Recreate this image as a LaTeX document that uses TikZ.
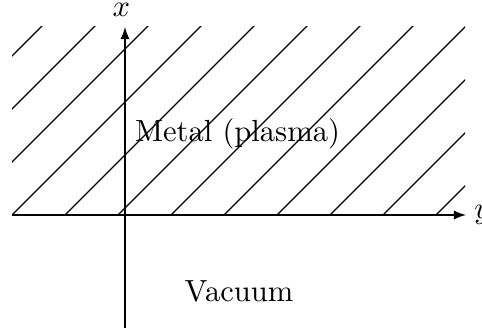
\documentclass[tikz,border=0pt]{standalone}
\usetikzlibrary{arrows}
\begin{document}
\begin{tikzpicture}[x=0.327pt,y=-0.327pt,
  hatch/.style={line width=0.4pt},
  axis/.style={line width=0.4pt,-latex},
  lbl/.style={anchor=base,inner sep=0pt}]
\useasboundingbox (0,0) rectangle (482,328);
% hatched metal region
\begin{scope}
  \clip (12,27) rectangle (465,215);
  \foreach \s in {-200,-147,...,470}
    \draw[hatch] (\s,215) -- ++(300,-300);
\end{scope}
% axes
\coordinate (yL) at (12,215);
\coordinate (yR) at (466,215);
\coordinate (xB) at (125,328);
\coordinate (xT) at (125,27);
\draw[axis] (yL) -- (yR);
\draw[axis] (xB) -- (xT);
\node[above,xshift=-1.2pt] (xl) at (xT) {$x$};
\node[right,inner sep=2.5pt] (yl) at (yR) {$y$};
% labels
\node[lbl] (metal) at (237.5,142) {Metal (plasma)};
\node[lbl] (vac) at (239,302) {Vacuum};
\end{tikzpicture}
\end{document}
